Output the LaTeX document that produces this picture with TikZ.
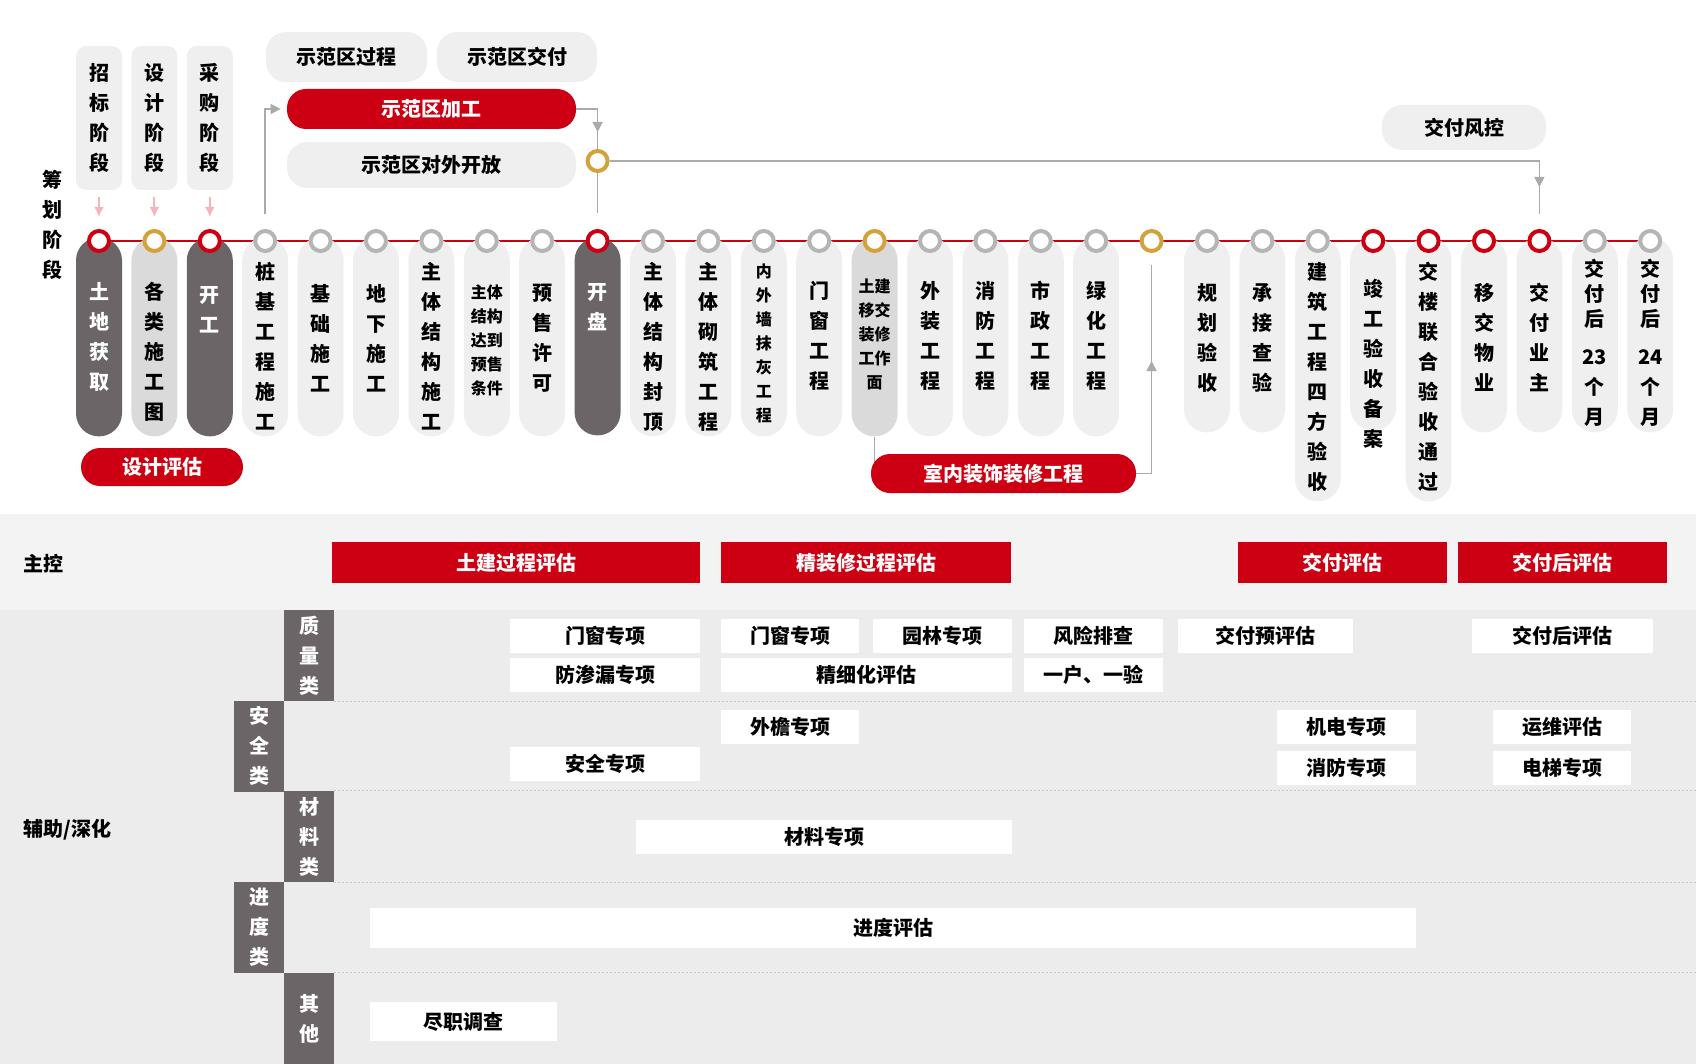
\documentclass[tikz,border=0pt]{standalone}
\usepackage{fontspec}
\setmainfont{Noto Sans CJK SC}
\usetikzlibrary{positioning,arrows.meta,decorations.markings,backgrounds}
\definecolor{zred}{RGB}{204,0,18}
\definecolor{zdark}{RGB}{107,101,103}
\definecolor{zlight}{RGB}{239,239,239}
\definecolor{zmid}{RGB}{218,218,218}
\definecolor{zgold}{RGB}{212,162,60}
\definecolor{zring}{RGB}{181,181,181}
\definecolor{zgray}{RGB}{170,170,170}
\definecolor{zpink}{RGB}{242,182,191}
\definecolor{zbandA}{RGB}{243,243,243}
\definecolor{zbandB}{RGB}{236,236,236}
\definecolor{zdot}{RGB}{200,200,200}

\begin{document}
\begin{tikzpicture}[
    x=0.5pt, y=-0.5pt,
    font=\bfseries\fontsize{10}{15}\selectfont,
    ring/.style={circle, draw=#1, line width=2pt, fill=white, minimum size=10pt, inner sep=0pt},
    pillar/.style={rectangle, rounded corners=11.5pt, fill=#1, minimum width=23pt, anchor=north, inner sep=0pt},
    ptext/.style={anchor=north, align=center, inner sep=0pt},
    psmall/.style={ptext, font=\bfseries\fontsize{8}{12}\selectfont},
    stagebox/.style={rectangle, rounded corners=5pt, fill=zlight, minimum width=23pt, minimum height=72pt, align=center, inner sep=0pt},
    softbox/.style={rectangle, rounded corners=10pt, fill=zlight, inner sep=0pt},
    redpill/.style={rectangle, rounded corners=9.5pt, fill=zred, text=white, inner sep=0pt},
    mainbox/.style={rectangle, fill=zred, text=white, minimum height=20.5pt, inner sep=0pt},
    itembox/.style={rectangle, fill=white, minimum height=17pt, inner sep=0pt},
    catbox/.style={rectangle, fill=zdark, text=white, minimum width=25pt, minimum height=45.5pt, align=center, inner sep=0pt},
    rowname/.style={anchor=west, inner sep=0pt},
    timeline/.style={draw=zred, line width=1pt},
    conn/.style={color=zgray, line width=0.75pt},
    pinkarr/.style={color=zpink, line width=1pt, -{Latex[length=5pt,width=5pt]}},
    tipat/.style={postaction={decorate}, decoration={markings, mark=at position #1 with {\arrow{Triangle[length=5pt,width=5pt]}}}},
    dotline/.style={draw=zdot, line width=0.6pt, dash pattern=on 1pt off 1pt}
]
    \useasboundingbox (0,0) rectangle (1696,1064);
    \coordinate (edge) at (1696,0);

    % Bands
    \fill[zbandA] (0,514) rectangle (1696,610);
    \fill[zbandB] (0,610) rectangle (1696,1064);

    % Planning stage
    \node[align=center, inner sep=0pt] (chouhua) at (52,225) {筹\\划\\阶\\段};
    \node[stagebox] (zb) at (99,118) {招\\标\\阶\\段};
    \node[stagebox] (sj) at (154.4,118) {设\\计\\阶\\段};
    \node[stagebox] (cg) at (209.8,118) {采\\购\\阶\\段};

    % Demo area
    \node[softbox, minimum width=80.5pt, minimum height=25pt] (sfgc) at (346.5,57) {示范区过程};
    \node[softbox, minimum width=80pt, minimum height=25pt] (sfjf) at (517,57) {示范区交付};
    \node[redpill, minimum width=144.5pt, minimum height=20pt] (sfjg) at (431.5,109) {示范区加工};
    \node[softbox, minimum width=144.5pt, minimum height=23pt] (sfkf) at (431.5,165) {示范区对外开放};
    \node[ring=zgold] (sfring) at (597.6,161) {};
    \node[softbox, minimum width=82pt, minimum height=22.5pt] (jffk) at (1464,127.5) {交付风控};

    % Pillars
    \node[pillar=zdark, minimum height=99.5pt] (p0) at (99,237) {};
    \node[pillar=zmid, minimum height=99.5pt] (p1) at (154.4,237) {};
    \node[pillar=zdark, minimum height=99.5pt] (p2) at (209.8,237) {};
    \node[pillar=zlight, minimum height=99.5pt] (p3) at (265.2,237) {};
    \node[pillar=zlight, minimum height=99.5pt] (p4) at (320.6,237) {};
    \node[pillar=zlight, minimum height=99.5pt] (p5) at (376,237) {};
    \node[pillar=zlight, minimum height=99.5pt] (p6) at (431.4,237) {};
    \node[pillar=zlight, minimum height=99.5pt] (p7) at (486.8,237) {};
    \node[pillar=zlight, minimum height=99.5pt] (p8) at (542.2,237) {};
    \node[pillar=zdark, minimum height=99pt] (p9) at (597.6,237) {};
    \node[pillar=zlight, minimum height=99.5pt] (p10) at (653,237) {};
    \node[pillar=zlight, minimum height=99.5pt] (p11) at (708.4,237) {};
    \node[pillar=zlight, minimum height=99.5pt] (p12) at (763.8,237) {};
    \node[pillar=zlight, minimum height=99.5pt] (p13) at (819.2,237) {};
    \node[pillar=zmid, minimum height=99.5pt] (p14) at (874.6,237) {};
    \node[pillar=zlight, minimum height=99.5pt] (p15) at (930,237) {};
    \node[pillar=zlight, minimum height=99.5pt] (p16) at (985.4,237) {};
    \node[pillar=zlight, minimum height=99.5pt] (p17) at (1040.8,237) {};
    \node[pillar=zlight, minimum height=99.5pt] (p18) at (1096.2,237) {};
    \node[pillar=zlight, minimum height=97.5pt] (p20) at (1207,237) {};
    \node[pillar=zlight, minimum height=97.5pt] (p21) at (1262.4,237) {};
    \node[pillar=zlight, minimum height=132pt] (p22) at (1317.8,237) {};
    \node[pillar=zlight, minimum height=96.5pt] (p23) at (1373.2,237) {};
    \node[pillar=zlight, minimum height=132pt] (p24) at (1428.6,237) {};
    \node[pillar=zlight, minimum height=97.5pt] (p25) at (1484,237) {};
    \node[pillar=zlight, minimum height=97.5pt] (p26) at (1539.4,237) {};
    \node[pillar=zlight, minimum height=97.5pt] (p27) at (1594.8,237) {};
    \node[pillar=zlight, minimum height=97.5pt] (p28) at (1650.2,237) {};

    % Timeline rings
    \node[ring=zred] (c0) at (99,241) {};
    \node[ring=zgold] (c1) at (154.4,241) {};
    \node[ring=zred] (c2) at (209.8,241) {};
    \node[ring=zring] (c3) at (265.2,241) {};
    \node[ring=zring] (c4) at (320.6,241) {};
    \node[ring=zring] (c5) at (376,241) {};
    \node[ring=zring] (c6) at (431.4,241) {};
    \node[ring=zring] (c7) at (486.8,241) {};
    \node[ring=zring] (c8) at (542.2,241) {};
    \node[ring=zred] (c9) at (597.6,241) {};
    \node[ring=zring] (c10) at (653,241) {};
    \node[ring=zring] (c11) at (708.4,241) {};
    \node[ring=zring] (c12) at (763.8,241) {};
    \node[ring=zring] (c13) at (819.2,241) {};
    \node[ring=zgold] (c14) at (874.6,241) {};
    \node[ring=zring] (c15) at (930,241) {};
    \node[ring=zring] (c16) at (985.4,241) {};
    \node[ring=zring] (c17) at (1040.8,241) {};
    \node[ring=zring] (c18) at (1096.2,241) {};
    \node[ring=zgold] (c19) at (1151.6,241) {};
    \node[ring=zring] (c20) at (1207,241) {};
    \node[ring=zring] (c21) at (1262.4,241) {};
    \node[ring=zring] (c22) at (1317.8,241) {};
    \node[ring=zred] (c23) at (1373.2,241) {};
    \node[ring=zred] (c24) at (1428.6,241) {};
    \node[ring=zred] (c25) at (1484,241) {};
    \node[ring=zred] (c26) at (1539.4,241) {};
    \node[ring=zring] (c27) at (1594.8,241) {};
    \node[ring=zring] (c28) at (1650.2,241) {};

    % Pillar texts
    \node[ptext, text=white] (t0) at (99,282) {土\\地\\获\\取};
    \node[ptext] (t1) at (154.4,282) {各\\类\\施\\工\\图};
    \node[ptext, text=white] (t2) at (209.8,286) {开\\工};
    \node[ptext] (t3) at (265.2,262) {桩\\基\\工\\程\\施\\工};
    \node[ptext] (t4) at (320.6,284) {基\\础\\施\\工};
    \node[ptext] (t5) at (376,284) {地\\下\\施\\工};
    \node[ptext] (t6) at (431.4,262) {主\\体\\结\\构\\施\\工};
    \node[psmall] (t7) at (486.8,284) {主体\\结构\\达到\\预售\\条件};
    \node[ptext] (t8) at (542.2,284) {预\\售\\许\\可};
    \node[ptext, text=white] (t9) at (597.6,283) {开\\盘};
    \node[ptext] (t10) at (653,262) {主\\体\\结\\构\\封\\顶};
    \node[ptext] (t11) at (708.4,262) {主\\体\\砌\\筑\\工\\程};
    \node[psmall] (t12) at (763.8,263) {内\\外\\墙\\抹\\灰\\工\\程};
    \node[ptext] (t13) at (819.2,281) {门\\窗\\工\\程};
    \node[psmall] (t14) at (874.6,278) {土建\\移交\\装修\\工作\\面};
    \node[ptext] (t15) at (930,281) {外\\装\\工\\程};
    \node[ptext] (t16) at (985.4,281) {消\\防\\工\\程};
    \node[ptext] (t17) at (1040.8,281) {市\\政\\工\\程};
    \node[ptext] (t18) at (1096.2,281) {绿\\化\\工\\程};
    \node[ptext] (t20) at (1207,283) {规\\划\\验\\收};
    \node[ptext] (t21) at (1262.4,283) {承\\接\\查\\验};
    \node[ptext] (t22) at (1317.8,262) {建\\筑\\工\\程\\四\\方\\验\\收};
    \node[ptext] (t23) at (1373.2,279) {竣\\工\\验\\收\\备\\案};
    \node[ptext] (t24) at (1428.6,262) {交\\楼\\联\\合\\验\\收\\通\\过};
    \node[ptext] (t25) at (1484,283) {移\\交\\物\\业};
    \node[ptext] (t26) at (1539.4,283) {交\\付\\业\\主};
    \node[ptext] (t27) at (1594.8,259) {交\\[-2.5pt]付\\[-2.5pt]后\\[4pt]23\\个\\月};
    \node[ptext] (t28) at (1650.2,259) {交\\[-2.5pt]付\\[-2.5pt]后\\[4pt]24\\个\\月};

    % Evaluations under the timeline
    \node[redpill, minimum width=81pt, minimum height=19pt] (sjpg) at (162,467) {设计评估};
    \node[redpill, minimum width=132.5pt, minimum height=19.5pt] (snzx) at (1003.5,473.5) {室内装饰装修工程};

    % Arrows
    \begin{scope}[on background layer]
        \draw[timeline] (c0) -- (c28);
        \draw[conn] (p14.south) -- (p14.south |- snzx.center);
    \end{scope}
    \draw[pinkarr] ([yshift=-3.5pt]zb.south) -- ([yshift=6pt]c0.north);
    \draw[pinkarr] ([yshift=-3.5pt]sj.south) -- ([yshift=6pt]c1.north);
    \draw[pinkarr] ([yshift=-3.5pt]cg.south) -- ([yshift=6pt]c2.north);
    \draw[conn, -{Triangle[length=5pt,width=5pt]}, shorten >=3pt] ([yshift=7.5pt]c3.north) |- (sfjg.west);
    \draw[conn, tipat=-8.5pt] (sfjg.east) -| (sfring.north);
    \draw[conn, shorten >=8pt] (sfring.south) -- (c9.north);
    \draw[conn, tipat=-13.5pt] (sfring.east) -| ([yshift=7.5pt]c26.north);
    \draw[conn, tipat=-48pt] (snzx.east) -| ([yshift=-6pt]c19.south);

    % Main control row
    \node[rowname] (zk) at (23,564) {主控};
    \node[mainbox, minimum width=184pt] (tjgc) at (516,562.5) {土建过程评估};
    \node[mainbox, minimum width=145pt] (jzxgc) at (866,562.5) {精装修过程评估};
    \node[mainbox, minimum width=104.5pt] (jfpg) at (1342.5,562.5) {交付评估};
    \node[mainbox, minimum width=104.5pt] (jfhpg) at (1562.5,562.5) {交付后评估};

    % Auxiliary rows
    \node[rowname] (fzsh) at (23,830) {辅助/深化};
    \node[catbox] (czl) at (309,655.5) {质\\量\\类};
    \node[catbox] (caq) at (259,746) {安\\全\\类};
    \node[catbox] (ccl) at (309,836.5) {材\\料\\类};
    \node[catbox] (cjd) at (259,927.5) {进\\度\\类};
    \node[catbox] (cqt) at (309,1018.5) {其\\他};

    \draw[dotline] (czl.south east) -- (czl.south east -| edge);
    \draw[dotline] (ccl.north east) -- (ccl.north east -| edge);
    \draw[dotline] (ccl.south east) -- (ccl.south east -| edge);
    \draw[dotline] (cqt.north east) -- (cqt.north east -| edge);

    % Quality
    \node[itembox, minimum width=95pt] (mc1) at (605,636) {门窗专项};
    \node[itembox, minimum width=69pt] (mc2) at (790,636) {门窗专项};
    \node[itembox, minimum width=69.5pt] (yl) at (942.5,636) {园林专项};
    \node[itembox, minimum width=69.5pt] (fx) at (1093.5,636) {风险排查};
    \node[itembox, minimum width=87.5pt] (jfypg) at (1265.5,636) {交付预评估};
    \node[itembox, minimum width=90.5pt] (jfhpg2) at (1562.5,636) {交付后评估};
    \node[itembox, minimum width=95pt] (fsl) at (605,675) {防渗漏专项};
    \node[itembox, minimum width=145.5pt] (jxh) at (866.5,675) {精细化评估};
    \node[itembox, minimum width=69.5pt] (yhyy) at (1093.5,675) {一户、一验};

    % Safety
    \node[itembox, minimum width=69pt] (wy) at (790,726.5) {外檐专项};
    \node[itembox, minimum width=69.5pt] (jdzx) at (1346.5,726.5) {机电专项};
    \node[itembox, minimum width=69pt] (ywpg) at (1562,726.5) {运维评估};
    \node[itembox, minimum width=95pt] (aqzx) at (605,763.5) {安全专项};
    \node[itembox, minimum width=69.5pt] (xfzx) at (1346.5,767.5) {消防专项};
    \node[itembox, minimum width=69pt] (dtzx) at (1562,767.5) {电梯专项};

    % Material, schedule, other
    \node[itembox, minimum width=188pt] (clzx) at (824,837) {材料专项};
    \node[itembox, minimum width=523pt, minimum height=20pt] (jdpg) at (893,928) {进度评估};
    \node[itembox, minimum width=93.5pt, minimum height=19.5pt] (jzdc) at (463.5,1021.5) {尽职调查};
\end{tikzpicture}
\end{document}
